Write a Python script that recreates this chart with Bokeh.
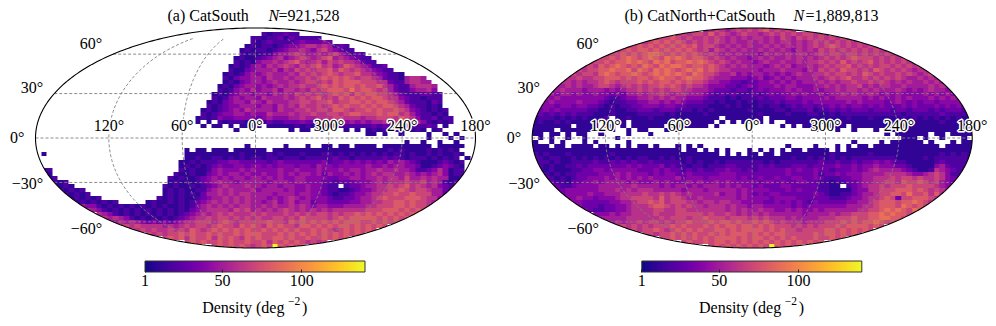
import math
import numpy as np
from bokeh.core.properties import value
from bokeh.embed import file_html
from bokeh.layouts import row
from bokeh.models import ColorBar, FixedTicker, LinearColorMapper
from bokeh.palettes import Plasma256
from bokeh.plotting import figure
from bokeh.resources import INLINE

TITLE_A = "(a) CatSouth"
TITLE_B = "(b) CatNorth+CatSouth"
COUNT_A = "=921,528"
COUNT_B = "=1,889,813"
LAT_VALUES = [60, 30, 0, -30, -60]
LAT_LABELS = ["60°", "30°", "0°", "−30°", "−60°"]
LON_VALUES = [-120, -60, 0, 60, 120, 180]
LON_LABELS = ["120°", "60°", "0°", "300°", "240°", "180°"]
CB_TICKS = [1, 50, 100]
CB_LOW = 1
CB_HIGH = 140
LEVEL_CODES = "123456789abcde"
LEVEL_VALUES = [10, 20, 30, 40, 50, 60, 70, 80, 90, 100, 110, 120, 130, 140]

# Density per map cell: 1-9,a-e = tens of deg^-2, . = no sources
GRID_A = [
".......... .......... .......... .......... .......... .......... .......... ..........",
".......... .......... .......... .......... .2122322.. .......... .......... ..........",
".......... .......... .......... .........2 2122313222 22........ .......... ..........",
".......... .......... .......... .........2 1232222343 3343...... .......... ..........",
".......... .......... .......... ........12 1221234456 6565232... .......... ..........",
".......... .......... .......... .......121 2212345565 46754322.. .......... ..........",
".......... .......... .......... .......212 1224556765 5656754232 .......... ..........",
".......... .......... .......... ......1211 2345645676 5678565432 2......... ..........",
".......... .......... .......... ......2121 4556567865 6757676653 22........ ..........",
".......... .......... .......... .....12124 5465676576 7867568765 4223...... ..........",
".......... .......... .......... .....21134 5556465767 6778687676 54322..... ..........",
".......... .......... .......... ....121245 4565556576 7678767786 6543221... ..........",
".......... .......... .......... ....213445 5465565667 6787878767 7653221566 5.........",
".......... .......... .......... ....121345 5456556567 7676878887 7766322566 55........",
".......... .......... .......... ...1213455 4545656676 6787878878 7786532256 665.......",
".......... .......... .......... ...2124546 4556466565 7678887978 8767532245 564.......",
".......... .......... .......... ..12134554 5546565767 6767878687 8877653222 3322......",
".......... .......... .......... ..21245455 4655565676 7867687878 7887664322 1222......",
".......... .......... .......... .121345546 5465556677 6778677887 8788765322 2132......",
".......... .......... .......... .212344555 4554656576 6767878778 7878876532 2121......",
".......... .......... .......... 1212345465 5554655667 6776887677 8787787643 21212.....",
".......... .......... .......... 2123445545 4465556566 7667767887 7787886753 22121.....",
".......... .......... .........1 2124334444 3454445565 5666776665 6677768764 223122....",
".......... .......... .........1 .1.2122212 2132233343 3344454545 4556565665 421212....",
".......... .......... .......... 1.11.1.112 1.11111212 1212122222 2323232322 232.1.....",
".......... .......... .......... ......1... ......1.11 .11...1.1. 1212121212 1.12......",
".......... .......... .......... .......... .......... .......... 11.1..1... .1..1.1...",
".......... .......... .......... .......... .......... .......... .......... .1...1.1..",
".......... .......... .......... .......... .......... .......... .......1.. 1..1..1...",
".......... .......... .......... ........1. .....1...1 ..11.11.11 11.1111111 11.11111..",
".......... .......... .......1.1 1.111.1111 11.1111111 1111111111 1111212111 1212121...",
".1........ .......... .......111 1111111211 1121211121 1122121212 1212122121 12121121..",
".......... .......... .......112 1122121212 2122122212 2222322122 2223232122 2121212.1.",
".......... .......... ......1121 2223344333 3323433333 3342334343 4343545432 11123212..",
".......... .......... ......1212 1234334434 4343444344 3544344444 5445455443 11234321..",
".12....... .......... ......2121 1245444545 4444544544 4544454554 5565565542 23464122..",
"..1....... .......... .....21121 1345455454 4544545455 4535445454 5656655654 54564122..",
"..12...... .......... ....212112 3454545545 5454544554 4443344554 5565665755 65655112..",
"..1212.... .......... ....121212 3456554555 5545554554 4433233344 4565666766 7565213...",
"...2121... .......... ...2121121 2345655565 5455455445 44322.2334 5566767867 65643221..",
"....21212. .......... ...1212112 2456565556 4555545445 4432211234 4566778767 76553212..",
".....21212 .......... ...1212121 3556565665 5554555455 4432122344 5667787787 7755321...",
"......1212 12........ ..21212112 3455656565 5545456545 4443223345 5678777888 7664221...",
".......121 21212..... 1211212123 4565656565 5456456455 3443333445 5667788787 765.......",
"........54 4212121212 1212112124 5656565665 5656556565 4554445555 6677788787 76........",
".........6 5421212121 2121212134 5666657675 6565676565 6565666666 7778887878 7.........",
".......... .654212121 2121212345 6567676667 6766676767 6776767787 8787878787 ..........",
".......... ..65654212 1212123456 6767767676 7667767687 7776787888 8878787878 ..........",
".......... ...6565654 3434345667 7767876777 7787768787 8787878887 7878787... ..........",
".......... .....67676 6665656767 7678776878 7687877688 7878788787 8787...... ..........",
".......... .......767 6766767687 6787878787 7878787877 8787678787 87........ ..........",
".......... .......... 7676778787 7878778788 8777878787 8787878787 .......... ..........",
".......... .......... ...7878687 7868787687 8778878778 7787878... .......... ..........",
".......... .......... .......787 8778787787 7868787876 767....... .......... ..........",
".......... .......... .......... ..78787876 787e87878. .......... .......... ..........",
]

GRID_B = [
".......... .......... .......... .567656767 67867676.. .......... .......... ..........",
".......... .......... ......6767 7686765676 6567676767 7676...... .......... ..........",
".......... .......... ..67787676 6767656565 6656576576 76767676.. .......... ..........",
".......... .........7 6787878767 6767656556 5656566565 6767676767 6......... ..........",
".......... .......678 7878787878 6776565656 5565656565 6767876767 676....... ..........",
".......... .....67878 8787878787 6757656565 5656565465 6576767676 76765..... ..........",
".......... ...6778787 8998787878 7676565655 5465656566 5676776776 7676767... ..........",
".......... .677878987 8987989878 8767656554 5656556565 6567676787 776767676. ..........",
".......... 6778788989 8798978898 9876765655 4565565565 6676768676 7867676766 ..........",
".........6 7687898787 9879899878 8787656565 5545656455 6567677867 6767767676 7.........",
".......676 7788988979 8798987898 9787665555 5455565554 6576768776 7687676765 667.......",
"......6767 7689878898 7898989879 8776556454 5545454565 5667677676 8767667676 5676......",
".....56676 6778887878 8789887898 8765554443 4534545455 5656767866 7676767655 65656.....",
"....566565 6678767778 7878878787 7655443323 3445454545 5565656676 6767656565 565656....",
"...5556565 5677656767 6778787676 6544433234 3444545544 4556565667 5656655655 5565656...",
"...4565554 5554545667 6767677665 5543332332 3434445454 4545565665 6565556545 4565545...",
"..45455454 4544343556 5667656655 5432323222 3234344545 4454556565 5654545444 45454545..",
".454544444 4443223445 5656565544 4322212122 2323334434 4445455555 4545445454 445454544.",
".445444454 4432122334 4554545433 3221211212 1222323334 3444444545 4444345434 344344444.",
"3444344344 3321212233 4443443322 2211121211 1212212323 3233434344 3434333434 3334343433",
"3343433333 2211211223 3323332221 2121111112 1111221222 3122323233 3233323323 3323233323",
"2323232322 2111211112 2222121111 1211111111 1211112111 2211212222 2222222122 2222322222",
"1222121212 1112.11211 1211111111 1111.11111 11.1111111 1111111211 1211111212 1212121212",
"1211212111 11.1.11.11 1111111111 111.1.1.11 11.1..1111 1111111111 1111111111 1111211112",
"1111111.11 11.11.1.11 1111.11111 11.1...... .....1.1.1 11.1111.11 1111111111 1111111111",
"1111.11111 1.1.1..1.1 1...1.1... .......... .......... .1...1..1. ..1..1.111 1111111111",
"11.11.1.11 ..1....1.. .1........ .......... .......... .......... ....1.1111 11.11.1111",
".1.1..1..1 .....1.... .......... .......... .......... .......... .......111 .1..1...1.",
"1..1.1...1 .1.....1.. .......... .......... .......... ........1. ...1.11111 1.1...1.11",
"111.11.111 1.11.1.1.1 1.1...1.1. 1......... ......1... .1...1.1.1 1.11111111 1111.11111",
"1111111111 1111111111 1111111.11 .1.1.1...1 .1.1.1.11. 1111.1.111 1111111111 1111111111",
"2121112111 1111211111 1111111111 1111.1.1.1 1.11.11111 1111211111 1211111111 1111212121",
"2212211212 1212121212 2112121121 1111111111 1111111211 2121212122 2222221111 1212222221",
"2221211222 2322323232 2322222121 2112122222 2212122222 2232232232 3343432211 1112322222",
"3212112232 3333333434 3334232212 2122233222 2323222333 2333343343 4454443321 1114532223",
".212111223 3443444443 3343433232 3223343323 2333334343 3433233343 4565555432 1126543222",
".121212233 3344454544 4343443343 3333444333 3333334333 3423343444 5555666654 4567642222",
"..32121233 4445454545 4544445344 4344444343 3433433443 3432223344 5566676776 7667643322",
"..33221334 4545555454 4454544454 5445454444 4344343344 3322122334 5566776877 87675433..",
"...3322344 4455555565 5554545545 4555454544 3433344333 332211.234 5667677787 7776544...",
"....334444 4455565656 6655555455 5455555454 4443334343 3322111134 4667778887 8767654...",
".....34444 5445556666 7667676565 5556455454 3434433333 3432112234 5567788797 7868653...",
"......4454 4344456677 7768677655 6555555454 4443444433 3333222344 5667873778 8876543...",
".......443 3333445567 7878677766 5665665544 4433434343 2433333445 5678887889 8763342...",
"........43 3323344566 6788767676 6566656554 5544444343 4444444555 6678887987 87533.....",
".........4 3223344566 6677667766 6666656565 5655445454 4545555556 6778989879 87........",
".......... .444545566 6676667777 7676676565 6565555554 5555656677 7889898878 7.........",
".......... ..55555666 6667677767 7877767776 7676665655 5566677787 7889988787 ..........",
".......... ...6565667 6776767787 7787887877 8787676665 6667778787 8898787... ..........",
".......... .....67676 7677787877 7878788788 7878777676 7677787888 8787...... ..........",
".......... .......676 7787678787 8778878788 8878787767 7778878787 87........ ..........",
".......... .......... 7767787878 7787878887 8787887777 7878878787 .......... ..........",
".......... .......... ...7787878 7878888787 8878787877 7877878... .......... ..........",
".......... .......... .......787 7878878787 8787878787 878....... .......... ..........",
".......... .......... .......... ..78787878 787e87878. .......... .......... ..........",
]

S = 110 / math.sqrt(2)          # pixels per Mollweide unit
FIG_W, FIG_H = 498, 326
FONT = value("Liberation Serif")
CY = 137.5
GRID_COLOR = "#808080"


def theta_of(lat):
    phi = math.radians(lat)
    t = phi
    for _ in range(60):
        t -= (2 * t + math.sin(2 * t) - math.pi * math.sin(phi)) / (2 + 2 * math.cos(2 * t))
    return t


def project(lon, lat):
    t = theta_of(lat)
    return 2 * math.sqrt(2) / math.pi * math.radians(lon) * math.cos(t), math.sqrt(2) * math.sin(t)


def decode(rows):
    table = dict(zip(LEVEL_CODES, LEVEL_VALUES))
    out = []
    for r in rows:
        s = r.replace(" ", "").ljust(80, ".")[:80]
        out.append([table.get(ch, float("nan")) for ch in s])
    return np.array(out[::-1], dtype=float)


mapper = LinearColorMapper(palette=Plasma256, low=CB_LOW, high=CB_HIGH, nan_color="white")


def panel(grid, fig_left, center_px, title, count, t_left, n_left, c_left, cb_left):
    xr = ((fig_left - center_px) / S, (fig_left + FIG_W - center_px) / S)
    yr = ((CY - FIG_H) / S, CY / S)
    p = figure(width=FIG_W, height=FIG_H, x_range=xr, y_range=yr, output_backend="svg",
               toolbar_location=None, x_axis_location=None, y_axis_location=None,
               min_border=0, outline_line_color=None, background_fill_color="white",
               border_fill_color="white")
    p.xgrid.visible = False
    p.ygrid.visible = False
    px = lambda v: (v - center_px) / S
    py = lambda v: (CY - v) / S

    R2 = math.sqrt(2)
    p.image(image=[decode(grid)], x=-2 * R2, y=-R2, dw=4 * R2, dh=2 * R2, color_mapper=mapper)

    # white surround so the map ends exactly on the ellipse
    ang = np.linspace(0, 2 * np.pi, 361)
    ex, ey = 2 * R2 * np.cos(ang), R2 * np.sin(ang)
    m = 0.12
    mx = [2 * R2 + m, 2 * R2 + m, -2 * R2 - m, -2 * R2 - m, 2 * R2 + m, 2 * R2 + m] + list(ex[::-1])
    my = [0, R2 + m, R2 + m, -R2 - m, -R2 - m, 0] + list(ey[::-1])
    p.patch(mx, my, fill_color="white", line_color=None)

    for lat in LAT_VALUES:
        a, b = project(-180, lat)[0], project(180, lat)[0]
        yy = project(0, lat)[1]
        p.line([a, b], [yy, yy], line_color=GRID_COLOR, line_width=0.9, line_dash="3 2")
    for lon in LON_VALUES[:-1]:
        pts = [project(lon, q) for q in np.arange(-75, 75.5, 2.5)]
        p.line([q[0] for q in pts], [q[1] for q in pts], line_color=GRID_COLOR,
               line_width=0.9, line_dash="3 2")
    p.line(ex, ey, line_color="black", line_width=1.1)

    lat_off = {60: -11, 30: -6, 0: -1, -30: 1, -60: 7}
    for lat, lab in zip(LAT_VALUES, LAT_LABELS):
        xx, yy = project(-180, lat)
        p.text([xx], [yy], text=[lab], text_font=FONT, text_font_size="16px", text_align="right",
               text_baseline="middle", x_offset=-11, y_offset=lat_off[lat], text_color="black")

    for lon, lab in zip(LON_VALUES, LON_LABELS):
        xx = project(lon, 0)[0]
        kw = dict(text_font=FONT, text_font_size="16px", text_align="center", text_baseline="middle")
        for dx, dy in [(-1, 0), (1, 0), (0, -1), (0, 1), (0, 0)]:
            p.text([xx], [0], text=[lab], text_color="white", text_outline_color="white",
                   x_offset=dx, y_offset=-13 + dy, **kw)
        p.text([xx], [0], text=[lab], text_color="black", y_offset=-13, **kw)

    tkw = dict(text_font=FONT, text_font_size="16px", text_align="left", text_baseline="middle",
               text_color="black")
    p.text([px(t_left)], [py(15)], text=[title], **tkw)
    p.text([px(n_left)], [py(15)], text=["N"], text_font_style="italic", **tkw)
    p.text([px(c_left)], [py(15)], text=[count], **tkw)

    cb = ColorBar(color_mapper=mapper, ticker=FixedTicker(ticks=CB_TICKS),
                  location=(cb_left - fig_left, 37.5),
                  orientation="horizontal", width=220, height=11, padding=0, label_standoff=3,
                  major_label_text_font="Liberation Serif", major_label_text_font_size="16px",
                  major_label_text_color="black", major_tick_in=3, major_tick_out=0,
                  major_tick_line_color="#222222", minor_tick_line_color=None,
                  bar_line_color="#333333", bar_line_width=1, border_line_color=None,
                  background_fill_color=None)
    p.add_layout(cb, "center")

    lkw = dict(text_font=FONT, text_align="left", text_baseline="middle", text_color="black")
    p.text([px(cb_left + 57.2)], [py(306.5)], text=["Density (deg"], text_font_size="16px", **lkw)
    p.text([px(cb_left + 143)], [py(300.5)], text=["−2"], text_font_size="11.5px", **lkw)
    p.text([px(cb_left + 157)], [py(306.5)], text=[")"], text_font_size="16px", **lkw)
    return p


left = panel(GRID_A, 0, 255, TITLE_A, COUNT_A, 167, 268, 278, 144.5)
right = panel(GRID_B, 498, 751.7, TITLE_B, COUNT_B, 624, 793, 805, 641.3)
page = row(left, right)
open("out.html", "w").write(file_html(page, INLINE))
